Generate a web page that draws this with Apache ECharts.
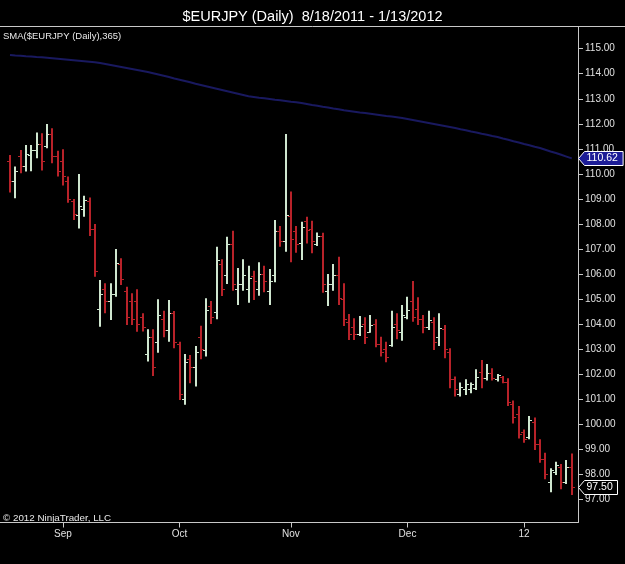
<!DOCTYPE html>
<html><head><meta charset="utf-8">
<script src="https://cdn.jsdelivr.net/npm/echarts@6/dist/echarts.min.js"></script>
<style>html,body{margin:0;padding:0;background:#000;}#c{width:625px;height:564px;}</style>
</head><body><div id="c"></div>
<script>
// Daily bars 8/18/2011 .. 1/13/2012 (weekdays), index 0..106
const opens = [
110.5,109.7,110.7,110.3,110.75,110.95,111.2,111.1,111.6,110.7,
110.5,109.7,108.9,108.35,108.6,108.9,107.8,104.6,105.4,104.9,
105.2,106.4,105.3,104.9,104.9,104.3,102.8,103.5,103.3,104.2,
103.75,104.45,103.2,101.0,102.6,102.3,103.5,102.95,104.7,104.5,
106.4,105.95,107.2,105.4,105.6,105.4,105.9,105.4,106.0,105.3,
105.95,107.7,107.3,108.3,107.7,107.25,108.1,107.8,107.2,107.5,
105.3,105.6,105.95,105.0,104.1,103.9,103.6,104.0,103.7,104.0,
103.2,103.0,103.15,104.0,103.7,104.3,104.9,104.6,104.2,103.9,
104.1,103.5,103.8,102.9,101.8,101.2,101.4,101.4,101.43,102.1,
101.85,102.05,101.8,101.9,101.7,100.8,100.4,99.7,99.5,100.1,
99.2,98.6,97.7,98.1,98.3,97.7,98.3];
const highs = [
110.75,110.29,110.95,111.15,111.15,111.65,111.62,111.99,111.82,110.92,
110.98,109.89,108.99,109.99,109.12,109.05,108.0,105.76,105.63,105.63,
107.0,106.63,105.49,105.23,105.39,104.43,103.79,103.79,104.99,104.53,
104.96,104.52,103.29,102.8,102.76,103.12,103.93,105.03,104.92,107.09,
106.59,107.49,107.73,106.24,106.59,106.33,106.13,106.47,106.33,106.2,
108.16,107.92,111.59,109.29,107.92,108.09,108.29,108.13,107.66,107.65,
106.0,106.4,106.69,105.63,104.4,104.23,104.32,104.27,104.36,104.19,
103.49,103.29,104.53,104.43,104.76,105.09,105.72,105.07,104.36,104.53,
104.27,104.43,103.96,103.03,101.9,101.66,101.79,101.66,102.19,102.56,
102.4,102.23,102.0,101.92,101.83,100.94,100.72,99.79,100.33,100.27,
99.4,98.86,98.24,98.5,98.41,98.57,98.83];
const lows = [
109.25,109.02,110.02,110.09,110.1,110.62,110.13,111.02,110.42,109.89,
109.53,108.85,108.16,107.82,108.29,107.52,105.89,103.89,104.43,104.16,
105.09,105.56,103.96,103.96,103.69,103.7,102.5,101.92,102.85,103.47,
103.29,103.03,100.96,100.77,101.63,101.5,102.59,102.7,104.0,104.19,
105.12,105.6,105.33,104.76,105.33,104.85,104.96,105.13,105.27,104.76,
105.67,107.09,106.89,106.47,106.85,106.56,107.22,106.83,107.12,105.25,
104.72,105.33,104.76,103.92,103.36,103.36,103.52,103.2,103.65,103.07,
102.7,102.47,103.09,103.39,103.33,104.19,104.09,103.96,103.63,103.76,
102.96,103.12,102.63,101.43,101.1,101.1,101.16,101.23,101.36,101.43,
101.74,101.74,101.7,101.63,100.72,100.03,99.43,99.26,99.4,98.97,
98.46,97.8,97.28,97.97,97.4,97.61,97.17];
const closes = [
109.7,110.1,110.3,110.8,110.95,111.2,110.5,111.6,110.7,110.1,
109.9,109.0,108.4,108.7,108.95,107.8,106.1,105.2,104.9,105.2,
106.45,105.8,104.3,104.2,104.0,103.9,103.5,102.3,104.35,103.75,
104.45,103.3,101.2,102.5,102.3,102.9,103.0,104.55,104.3,106.55,
105.4,107.2,105.6,105.6,105.95,105.84,105.7,106.0,105.7,105.7,
107.7,107.3,108.35,107.4,107.2,107.86,107.75,107.3,107.5,105.6,
105.6,105.96,105.03,104.2,103.6,103.6,103.92,103.5,103.96,103.2,
102.9,102.7,103.9,103.75,104.35,104.56,104.3,104.2,103.9,104.16,
103.3,103.85,103.0,101.8,101.4,101.47,101.6,101.6,101.87,101.85,
102.05,101.85,101.95,101.7,100.9,100.3,99.6,99.4,100.15,99.2,
98.6,98.0,98.15,98.35,97.7,98.3,97.5];
const sma365 = [
114.75,114.73,114.72,114.70,114.69,114.67,114.66,114.64,114.62,114.60,
114.58,114.56,114.54,114.52,114.50,114.48,114.46,114.43,
114.39,114.35,114.31,114.27,114.23,114.19,114.15,114.11,114.07,
114.02,113.97,113.92,113.87,113.81,113.76,113.71,113.66,113.60,113.55,
113.50,113.45,113.40,113.35,113.30,113.25,113.20,113.15,113.10,
113.07,113.04,113.02,112.99,112.96,112.94,112.91,112.88,112.86,112.83,
112.79,112.75,112.72,112.68,112.65,112.61,112.58,112.54,112.51,
112.48,112.45,112.43,112.40,112.37,112.34,112.31,112.29,112.26,112.23,
112.19,112.15,112.11,112.07,112.03,111.99,111.95,111.91,111.87,
111.83,111.78,111.74,111.69,111.65,111.60,111.56,111.51,111.47,
111.41,111.36,111.30,111.25,111.19,111.14,111.08,111.03,
110.96,110.89,110.83,110.76,110.69,110.62];
const xTickIdx = [10, 32, 53, 75, 97];
const xTickLabels = ['Sep', 'Oct', 'Nov', 'Dec', '12'];
const yTicks = [97,98,99,100,101,102,103,104,105,106,107,108,109,110,111,112,113,114,115];

const upColor = '#cfe6cf';
const downColor = '#b82229';
const FONT = 'Liberation Sans, Arial, sans-serif';

const ohlc = opens.map((o, i) => [i, o, highs[i], lows[i], closes[i]]);
const smaData = sma365.map((v, i) => [i, v]);

function renderItem(params, api) {
  const i = api.value(0);
  const o = api.value(1), h = api.value(2), l = api.value(3), c = api.value(4);
  const ph = api.coord([i, h]), pl = api.coord([i, l]);
  const po = api.coord([i, o]), pc = api.coord([i, c]);
  const x = Math.round(ph[0]);
  const color = c >= o ? upColor : downColor;
  const st = { stroke: color, lineWidth: 2 };
  return {
    type: 'group',
    children: [
      { type: 'line', shape: { x1: x, y1: ph[1], x2: x, y2: pl[1] }, style: st },
      { type: 'line', shape: { x1: x - 3, y1: Math.round(po[1]) + 0.5, x2: x, y2: Math.round(po[1]) + 0.5 }, style: { stroke: color, lineWidth: 1 } },
      { type: 'line', shape: { x1: x, y1: Math.round(pc[1]) + 0.5, x2: x + 3, y2: Math.round(pc[1]) + 0.5 }, style: { stroke: color, lineWidth: 1 } }
    ]
  };
}

const chart = echarts.init(document.getElementById('c'), null, { renderer: 'canvas' });
const option = {
  backgroundColor: '#000',
  animation: false,
  title: {
    text: '$EURJPY (Daily)  8/18/2011 - 1/13/2012',
    left: 'center', top: 4,
    textStyle: { color: '#fff', fontSize: 14.5, fontWeight: 'normal', fontFamily: FONT }
  },
  grid: { left: 0, right: 47, top: 27, bottom: 41.5 },
  xAxis: {
    type: 'value', min: -1.887, max: 107.17,
    axisLine: { show: true, onZero: false, lineStyle: { color: '#c8c8c8', width: 1 } },
    axisTick: { show: true, customValues: xTickIdx, length: 5, lineStyle: { color: '#c8c8c8' } },
    axisLabel: {
      customValues: xTickIdx, margin: 7, color: '#e0e0e0', fontSize: 10, fontFamily: FONT,
      formatter: v => xTickLabels[xTickIdx.indexOf(Math.round(v))] || ''
    },
    splitLine: { show: false }
  },
  yAxis: {
    type: 'value', position: 'right', min: 96.07, max: 115.867,
    axisLine: { show: true, onZero: false, lineStyle: { color: '#c8c8c8', width: 1 } },
    axisTick: { show: true, customValues: yTicks, length: 5, lineStyle: { color: '#c8c8c8' } },
    axisLabel: {
      customValues: yTicks, margin: 7, color: '#e0e0e0', fontSize: 10, fontFamily: FONT,
      formatter: v => v.toFixed(2)
    },
    splitLine: { show: false }
  },
  series: [
    {
      type: 'line', data: smaData, showSymbol: false, symbol: 'none',
      lineStyle: { color: '#19195f', width: 2 }, z: 1
    },
    {
      type: 'custom', renderItem: renderItem, data: ohlc,
      encode: { x: 0, y: [1, 2, 3, 4] }, z: 2
    }
  ]
};
chart.setOption(option);

function tag(value, fill, text) {
  const y = Math.round(chart.convertToPixel({ xAxisIndex: 0, yAxisIndex: 0 }, [0, value])[1]) + 0.5;
  const ax = 578.5;
  const w = text.length * 5.6 + 5;
  return [
    { type: 'polygon', shape: { points: [[ax, y], [ax + 6, y - 7], [ax + 6 + w, y - 7], [ax + 6 + w, y + 7], [ax + 6, y + 7]] },
      style: { fill: fill, stroke: '#ffffff', lineWidth: 1 }, z: 10 },
    { type: 'text', x: ax + 8, y: y, style: { text: text, fill: '#fff', font: '10.5px ' + FONT, textVerticalAlign: 'middle' }, z: 11 }
  ];
}
const lastSma = sma365[sma365.length - 1];
const lastClose = closes[closes.length - 1];
chart.setOption({
  graphic: [
    { type: 'line', shape: { x1: 0, y1: 26.5, x2: 625, y2: 26.5 }, style: { stroke: '#c8c8c8', lineWidth: 1 } },
    { type: 'text', x: 3, y: 31, style: { text: 'SMA($EURJPY (Daily),365)', fill: '#e8e8e8', font: '9.5px ' + FONT } },
    { type: 'text', x: 3, y: 513, style: { text: '\u00a9 2012 NinjaTrader, LLC', fill: '#e8e8e8', font: '9.8px ' + FONT } },
    ...tag(lastSma, '#1c1c96', lastSma.toFixed(2)),
    ...tag(lastClose, '#000000', lastClose.toFixed(2))
  ]
});
</script>
</body></html>
